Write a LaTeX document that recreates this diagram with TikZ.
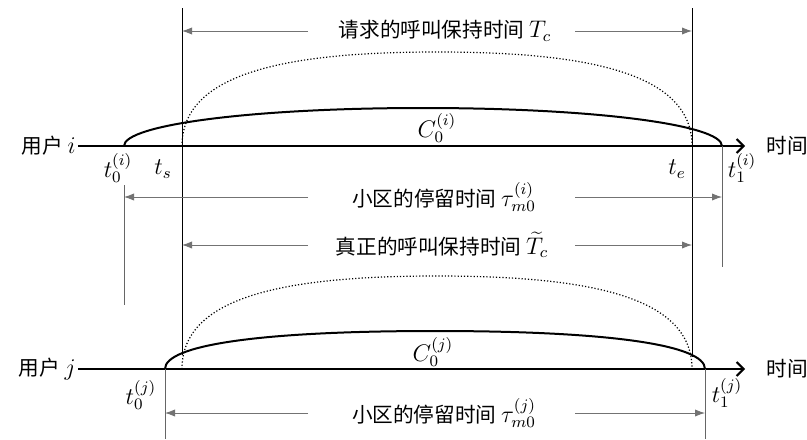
\documentclass[tikz,border=0pt]{standalone}
\usepackage{fontspec}
\newfontfamily\cjk[Scale=0.86]{Noto Sans CJK SC}
\usepackage{tikz}
\usetikzlibrary{arrows.meta,positioning}
\definecolor{tickgray}{gray}{0.4}
\definecolor{dimgray}{gray}{0.45}

\begin{document}
\begin{tikzpicture}[x=0.5pt, y=-0.5pt,
  >={Latex[length=5pt,width=3.6pt]},
  axis/.style={line width=1pt, -{Straight Barb[length=3.5pt,width=7pt]}, shorten >=9.5pt},
  call/.style={line width=1pt},
  req/.style={densely dotted, line width=0.6pt},
  bound/.style={line width=0.5pt},
  tickline/.style={line width=0.5pt, draw=tickgray},
  dimline/.style={line width=0.4pt, draw=dimgray, ->},
  lbl/.style={font=\cjk\fontsize{12}{14}\selectfont, inner sep=1pt}]
\useasboundingbox (0,0) rectangle (807,439);
\coordinate (tsT) at (182,8);
\coordinate (teT) at (692,8);
\coordinate (tsB) at (182,355);
\coordinate (teB) at (692,357);
\coordinate (t0i) at (124,146);
\coordinate (t1i) at (722,146);
\coordinate (t0j) at (165,369);
\coordinate (t1j) at (705,369);
\coordinate (dl) at (308,0);
\coordinate (dr) at (575,0);
\node[lbl, anchor=east] (ui) at (78,146) {用户\ $i$};
\node[lbl, anchor=west] (ti) at (764,146) {时间};
\node[lbl, anchor=east] (uj) at (78,369) {用户\ $j$};
\node[lbl, anchor=west] (tj) at (764,369) {时间};
\draw[axis] (ui.east) -- (ti.west);
\draw[axis] (uj.east) -- (tj.west);
\draw[call] (t0i) .. controls (124,125) and (250,108) .. (423,108) .. controls (596,108) and (722,125) .. (t1i);
\draw[req] (182,146) .. controls (182,75) and (280,52) .. (437,52) .. controls (594,52) and (692,75) .. (692,146);
\draw[call] (t0j) .. controls (165,345) and (260,331) .. (435,331) .. controls (610,331) and (705,345) .. (t1j);
\draw[req] (182,369) .. controls (182,298) and (280,276) .. (437,276) .. controls (594,276) and (692,298) .. (692,369);
\draw[bound] (tsT) -- (tsB);
\draw[bound] (teT) -- (teB);
\draw[tickline] (t0i |- 0,185) -- (t0i |- 0,305);
\draw[tickline] (t1i) -- (t1i |- 0,267);
\draw[tickline] (t0j) -- (t0j |- 0,439);
\draw[tickline] (t1j) -- (t1j |- 0,439);
\node[lbl] (Tc) at (445,31) {请求的呼叫保持时间\ $T_c$};
\draw[dimline] (dl |- Tc) -- (tsT |- Tc);
\draw[dimline] (dr |- Tc) -- (teT |- Tc);
\node[lbl] (stayi) at (444,197) {小区的停留时间\ $\tau_{m0}^{(i)}$};
\draw[dimline] (dl |- stayi) -- (t0i |- stayi);
\draw[dimline] (dr |- stayi) -- (t1i |- stayi);
\node[lbl] (realTc) at (442,245) {真正的呼叫保持时间\ $\widetilde{T}_c$};
\draw[dimline] (dl |- realTc) -- (tsT |- realTc);
\draw[dimline] (dr |- realTc) -- (teT |- realTc);
\node[lbl] (stayj) at (444,413) {小区的停留时间\ $\tau_{m0}^{(j)}$};
\draw[dimline] (dl |- stayj) -- (t0j |- stayj);
\draw[dimline] (dr |- stayj) -- (t1j |- stayj);
\node[lbl] (lt0i) at (118,168) {$t_0^{(i)}$};
\node[lbl] (lts) at (163,169) {$t_s$};
\node[lbl] (lte) at (677,169) {$t_e$};
\node[lbl] (lt1i) at (742,168) {$t_1^{(i)}$};
\node[lbl] (lC0i) at (437,128) {$C_0^{(i)}$};
\node[lbl] (lC0j) at (433,352) {$C_0^{(j)}$};
\node[lbl] (lt0j) at (141,395) {$t_0^{(j)}$};
\node[lbl] (lt1j) at (727,393) {$t_1^{(j)}$};
\end{tikzpicture}
\end{document}
